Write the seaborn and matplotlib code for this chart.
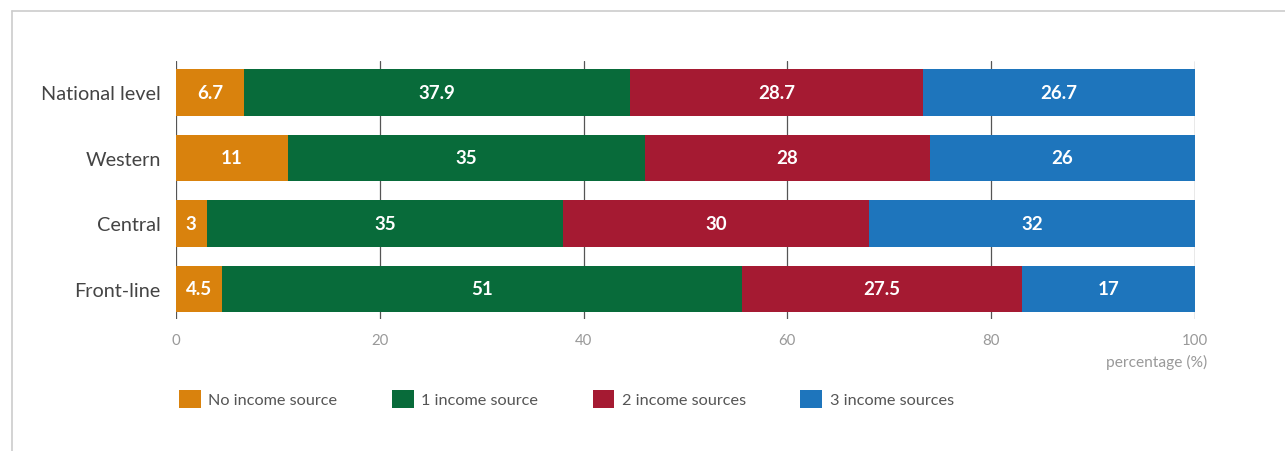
import pandas as pd
import numpy as np
import matplotlib.pyplot as plt
import seaborn as sns
from matplotlib.patches import Patch
from matplotlib.lines import Line2D

# Datos
regions = ["National level", "Western", "Central", "Front-line"]
series = ["No income source", "1 income source", "2 income sources", "3 income sources"]
no_income = [6.7, 11, 3, 4.5]
one_income = [37.9, 35, 35, 51]
two_income = [28.7, 28, 30, 27.5]
three_income = [26.7, 26, 32, 17]
colors = ["#D9820D", "#086B3A", "#A51A32", "#1E75BC"]
x_ticks = [0, 20, 40, 60, 80, 100]


def main():
    sns.set_style("white")
    plt.rcParams["font.family"] = ["Lato", "DejaVu Sans"]

    values = [no_income, one_income, two_income, three_income]
    df = pd.DataFrame({"region": regions})
    cum = np.zeros(len(regions))
    starts = []
    for name, vals in zip(series, values):
        starts.append(cum.copy())
        cum = cum + np.array(vals)
        df[name] = cum

    fig = plt.figure(figsize=(12.85, 4.52), dpi=100)
    ax = fig.add_axes([176 / 1285, 1 - 320 / 452, 1019 / 1285, 258 / 452])

    # Barras apiladas: dibujar acumulados de mayor a menor
    for name, color in reversed(list(zip(series, colors))):
        sns.barplot(data=df, x=name, y="region", order=regions, color=color,
                    orient="h", width=0.71, saturation=1, linewidth=0,
                    edgecolor=color, ax=ax, zorder=2)

    # Etiquetas de valores
    for vals, st in zip(values, starts):
        for i, (v, s) in enumerate(zip(vals, st)):
            ax.text(s + v / 2, i, f"{v:g}", ha="center", va="center",
                    color="white", fontsize=13.5, fontweight="bold", zorder=3)

    ax.set_xlim(0, 100)
    ax.set_ylim(3.46, -0.48)
    ax.set_xticks(x_ticks)
    ax.set_xlabel("")
    ax.set_ylabel("")
    for sp in ax.spines.values():
        sp.set_visible(False)
    for t in x_ticks:
        ax.axvline(t, color="#555555", lw=0.9, zorder=1)
    ax.tick_params(axis="x", length=0, pad=10, labelsize=10.8, labelcolor="#999999")
    ax.tick_params(axis="y", length=0, pad=11, labelsize=14.3, labelcolor="#444444")

    fig.text(1207 / 1285, 1 - 362 / 452, "percentage (%)", ha="right", va="center",
             fontsize=11.2, color="#999999")

    handles = [Patch(facecolor=c, edgecolor="none") for c in colors]
    fig.legend(handles, series, loc="center left", ncol=4,
               bbox_to_anchor=(179 / 1285, 1 - 400 / 452), frameon=False,
               fontsize=11.7, labelcolor="#555555", handlelength=1.35,
               handleheight=1.3, handletextpad=0.45, columnspacing=3.35,
               borderaxespad=0, borderpad=0)

    # Marco gris superior e izquierdo
    fig.add_artist(Line2D([12 / 1285, 1], [1 - 12 / 452, 1 - 12 / 452],
                          color="#cccccc", lw=1.2))
    fig.add_artist(Line2D([12 / 1285, 12 / 1285], [0, 1 - 12 / 452],
                          color="#cccccc", lw=1.2))

    fig.savefig("out.png", dpi=100)
    plt.close(fig)


if __name__ == "__main__":
    main()
